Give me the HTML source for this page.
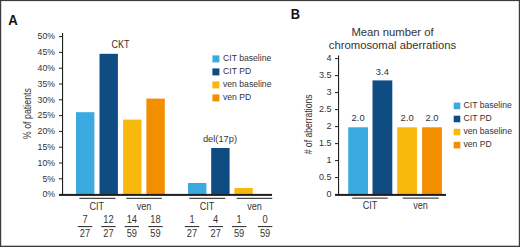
<!DOCTYPE html>
<html><head><meta charset="utf-8"><style>
html,body{margin:0;padding:0;background:#fff;}
body{width:520px;height:247px;overflow:hidden;}
svg{display:block;font-family:"Liberation Sans",sans-serif;}
</style></head><body>
<svg width="520" height="247" viewBox="0 0 520 247">
<rect x="0" y="0" width="520" height="247" fill="#fff"/>
<rect x="0.00" y="0.00" width="520.00" height="1.10" fill="#3c3c3c"/>
<rect x="0.00" y="0.00" width="1.20" height="247.00" fill="#3c3c3c"/>
<rect x="518.80" y="0.00" width="1.20" height="247.00" fill="#3c3c3c"/>
<rect x="0.00" y="245.70" width="520.00" height="1.30" fill="#3c3c3c"/>
<rect x="76.00" y="112.20" width="18.40" height="82.00" fill="#3aaae1"/>
<rect x="99.50" y="53.80" width="18.40" height="140.40" fill="#0f4c81"/>
<rect x="123.10" y="119.60" width="18.40" height="74.60" fill="#f9b90c"/>
<rect x="146.40" y="98.60" width="18.40" height="95.60" fill="#f28e00"/>
<rect x="188.00" y="183.00" width="18.40" height="11.20" fill="#3aaae1"/>
<rect x="211.20" y="148.00" width="18.40" height="46.20" fill="#0f4c81"/>
<rect x="234.40" y="188.00" width="18.40" height="6.20" fill="#f9b90c"/>
<rect x="62.00" y="33.00" width="1.10" height="162.60" fill="#1e1e1e"/>
<rect x="59.00" y="36.10" width="4.00" height="1.00" fill="#1e1e1e"/>
<rect x="59.00" y="51.90" width="4.00" height="1.00" fill="#1e1e1e"/>
<rect x="59.00" y="67.70" width="4.00" height="1.00" fill="#1e1e1e"/>
<rect x="59.00" y="83.50" width="4.00" height="1.00" fill="#1e1e1e"/>
<rect x="59.00" y="99.30" width="4.00" height="1.00" fill="#1e1e1e"/>
<rect x="59.00" y="115.10" width="4.00" height="1.00" fill="#1e1e1e"/>
<rect x="59.00" y="130.90" width="4.00" height="1.00" fill="#1e1e1e"/>
<rect x="59.00" y="146.70" width="4.00" height="1.00" fill="#1e1e1e"/>
<rect x="59.00" y="162.50" width="4.00" height="1.00" fill="#1e1e1e"/>
<rect x="59.00" y="178.30" width="4.00" height="1.00" fill="#1e1e1e"/>
<rect x="59.00" y="194.10" width="4.00" height="1.00" fill="#1e1e1e"/>
<rect x="59.00" y="193.90" width="213.00" height="2.00" fill="#1e1e1e"/>
<rect x="79.40" y="197.80" width="36.10" height="1.05" fill="#2a2a2a"/>
<rect x="126.40" y="197.80" width="35.40" height="1.05" fill="#2a2a2a"/>
<rect x="189.20" y="197.80" width="36.00" height="1.05" fill="#2a2a2a"/>
<rect x="236.70" y="197.80" width="35.60" height="1.05" fill="#2a2a2a"/>
<rect x="77.80" y="226.00" width="14.40" height="1.10" fill="#383838"/>
<rect x="101.30" y="226.00" width="14.40" height="1.10" fill="#383838"/>
<rect x="124.60" y="226.00" width="14.40" height="1.10" fill="#383838"/>
<rect x="148.30" y="226.00" width="14.40" height="1.10" fill="#383838"/>
<rect x="184.80" y="226.00" width="14.40" height="1.10" fill="#383838"/>
<rect x="208.50" y="226.00" width="14.40" height="1.10" fill="#383838"/>
<rect x="231.90" y="226.00" width="14.40" height="1.10" fill="#383838"/>
<rect x="257.90" y="226.00" width="14.40" height="1.10" fill="#383838"/>
<rect x="212.40" y="55.40" width="7.00" height="7.00" fill="#3aaae1"/>
<rect x="212.40" y="68.40" width="7.00" height="7.00" fill="#0f4c81"/>
<rect x="212.40" y="81.40" width="7.00" height="7.00" fill="#f9b90c"/>
<rect x="212.40" y="94.40" width="7.00" height="7.00" fill="#f28e00"/>
<rect x="348.20" y="127.30" width="19.80" height="66.90" fill="#3aaae1"/>
<rect x="372.50" y="80.40" width="19.80" height="113.80" fill="#0f4c81"/>
<rect x="397.20" y="127.30" width="19.80" height="66.90" fill="#f9b90c"/>
<rect x="422.10" y="127.30" width="19.80" height="66.90" fill="#f28e00"/>
<rect x="338.00" y="55.50" width="1.10" height="140.10" fill="#1e1e1e"/>
<rect x="335.00" y="58.10" width="4.00" height="1.00" fill="#1e1e1e"/>
<rect x="335.00" y="75.10" width="4.00" height="1.00" fill="#1e1e1e"/>
<rect x="335.00" y="92.10" width="4.00" height="1.00" fill="#1e1e1e"/>
<rect x="335.00" y="109.10" width="4.00" height="1.00" fill="#1e1e1e"/>
<rect x="335.00" y="126.10" width="4.00" height="1.00" fill="#1e1e1e"/>
<rect x="335.00" y="143.10" width="4.00" height="1.00" fill="#1e1e1e"/>
<rect x="335.00" y="160.10" width="4.00" height="1.00" fill="#1e1e1e"/>
<rect x="335.00" y="177.10" width="4.00" height="1.00" fill="#1e1e1e"/>
<rect x="335.00" y="194.10" width="4.00" height="1.00" fill="#1e1e1e"/>
<rect x="335.00" y="193.90" width="111.00" height="2.00" fill="#1e1e1e"/>
<rect x="352.30" y="197.60" width="35.40" height="1.05" fill="#2a2a2a"/>
<rect x="402.70" y="197.60" width="36.10" height="1.05" fill="#2a2a2a"/>
<rect x="453.70" y="102.60" width="6.60" height="6.60" fill="#3aaae1"/>
<rect x="453.70" y="115.67" width="6.60" height="6.60" fill="#0f4c81"/>
<rect x="453.70" y="128.74" width="6.60" height="6.60" fill="#f9b90c"/>
<rect x="453.70" y="141.81" width="6.60" height="6.60" fill="#f28e00"/>
<text transform="translate(8.20,25) scale(0.94,1)" text-anchor="start" font-size="14" fill="#111" font-weight="bold">A</text>
<text transform="translate(290.80,19) scale(0.93,1)" text-anchor="start" font-size="13.8" fill="#111" font-weight="bold">B</text>
<text transform="translate(55.00,39) scale(0.9,1)" text-anchor="end" font-size="9.7" fill="#333333">50%</text>
<text transform="translate(55.00,55) scale(0.9,1)" text-anchor="end" font-size="9.7" fill="#333333">45%</text>
<text transform="translate(55.00,71) scale(0.9,1)" text-anchor="end" font-size="9.7" fill="#333333">40%</text>
<text transform="translate(55.00,87) scale(0.9,1)" text-anchor="end" font-size="9.7" fill="#333333">35%</text>
<text transform="translate(55.00,103) scale(0.9,1)" text-anchor="end" font-size="9.7" fill="#333333">30%</text>
<text transform="translate(55.00,118) scale(0.9,1)" text-anchor="end" font-size="9.7" fill="#333333">25%</text>
<text transform="translate(55.00,134) scale(0.9,1)" text-anchor="end" font-size="9.7" fill="#333333">20%</text>
<text transform="translate(55.00,150) scale(0.9,1)" text-anchor="end" font-size="9.7" fill="#333333">15%</text>
<text transform="translate(55.00,166) scale(0.9,1)" text-anchor="end" font-size="9.7" fill="#333333">10%</text>
<text transform="translate(55.00,182) scale(0.9,1)" text-anchor="end" font-size="9.7" fill="#333333">5%</text>
<text transform="translate(55.00,197) scale(0.9,1)" text-anchor="end" font-size="9.7" fill="#333333">0%</text>
<text transform="translate(96.80,210) scale(0.89,1)" text-anchor="middle" font-size="10.2" fill="#333333">CIT</text>
<text transform="translate(144.00,210) scale(0.89,1)" text-anchor="middle" font-size="10.2" fill="#333333">ven</text>
<text transform="translate(207.00,210) scale(0.89,1)" text-anchor="middle" font-size="10.2" fill="#333333">CIT</text>
<text transform="translate(254.50,210) scale(0.89,1)" text-anchor="middle" font-size="10.2" fill="#333333">ven</text>
<text transform="translate(85.00,223) scale(0.93,1)" text-anchor="middle" font-size="10" fill="#333333">7</text>
<text transform="translate(85.00,237) scale(0.93,1)" text-anchor="middle" font-size="10" fill="#333333">27</text>
<text transform="translate(108.50,223) scale(0.93,1)" text-anchor="middle" font-size="10" fill="#333333">12</text>
<text transform="translate(108.50,237) scale(0.93,1)" text-anchor="middle" font-size="10" fill="#333333">27</text>
<text transform="translate(131.80,223) scale(0.93,1)" text-anchor="middle" font-size="10" fill="#333333">14</text>
<text transform="translate(131.80,237) scale(0.93,1)" text-anchor="middle" font-size="10" fill="#333333">59</text>
<text transform="translate(155.50,223) scale(0.93,1)" text-anchor="middle" font-size="10" fill="#333333">18</text>
<text transform="translate(155.50,237) scale(0.93,1)" text-anchor="middle" font-size="10" fill="#333333">59</text>
<text transform="translate(192.00,223) scale(0.93,1)" text-anchor="middle" font-size="10" fill="#333333">1</text>
<text transform="translate(192.00,237) scale(0.93,1)" text-anchor="middle" font-size="10" fill="#333333">27</text>
<text transform="translate(215.70,223) scale(0.93,1)" text-anchor="middle" font-size="10" fill="#333333">4</text>
<text transform="translate(215.70,237) scale(0.93,1)" text-anchor="middle" font-size="10" fill="#333333">27</text>
<text transform="translate(239.10,223) scale(0.93,1)" text-anchor="middle" font-size="10" fill="#333333">1</text>
<text transform="translate(239.10,237) scale(0.93,1)" text-anchor="middle" font-size="10" fill="#333333">59</text>
<text transform="translate(265.10,223) scale(0.93,1)" text-anchor="middle" font-size="10" fill="#333333">0</text>
<text transform="translate(265.10,237) scale(0.93,1)" text-anchor="middle" font-size="10" fill="#333333">59</text>
<text transform="translate(120.40,48) scale(0.9,1)" text-anchor="middle" font-size="10.0" fill="#333333">CKT</text>
<text transform="translate(220.00,142) scale(0.97,1)" text-anchor="middle" font-size="9.6" fill="#333333">del(17p)</text>
<text transform="translate(31.00,113.60) rotate(-90) scale(0.85,1)" text-anchor="middle" font-size="10.4" fill="#333333">% of patients</text>
<text transform="translate(223.00,61) scale(0.94,1)" text-anchor="start" font-size="9.2" fill="#333333">CIT baseline</text>
<text transform="translate(223.00,74) scale(0.94,1)" text-anchor="start" font-size="9.2" fill="#333333">CIT PD</text>
<text transform="translate(223.00,87) scale(0.94,1)" text-anchor="start" font-size="9.2" fill="#333333">ven baseline</text>
<text transform="translate(223.00,100) scale(0.94,1)" text-anchor="start" font-size="9.2" fill="#333333">ven PD</text>
<text transform="translate(358.10,121) scale(0.95,1)" text-anchor="middle" font-size="9.9" fill="#333333">2.0</text>
<text transform="translate(382.40,75) scale(0.95,1)" text-anchor="middle" font-size="9.9" fill="#333333">3.4</text>
<text transform="translate(407.10,121) scale(0.95,1)" text-anchor="middle" font-size="9.9" fill="#333333">2.0</text>
<text transform="translate(432.00,121) scale(0.95,1)" text-anchor="middle" font-size="9.9" fill="#333333">2.0</text>
<text transform="translate(331.50,61) scale(0.93,1)" text-anchor="end" font-size="9.7" fill="#333333">4</text>
<text transform="translate(331.50,78) scale(0.93,1)" text-anchor="end" font-size="9.7" fill="#333333">3.5</text>
<text transform="translate(331.50,95) scale(0.93,1)" text-anchor="end" font-size="9.7" fill="#333333">3</text>
<text transform="translate(331.50,112) scale(0.93,1)" text-anchor="end" font-size="9.7" fill="#333333">2.5</text>
<text transform="translate(331.50,129) scale(0.93,1)" text-anchor="end" font-size="9.7" fill="#333333">2</text>
<text transform="translate(331.50,146) scale(0.93,1)" text-anchor="end" font-size="9.7" fill="#333333">1.5</text>
<text transform="translate(331.50,163) scale(0.93,1)" text-anchor="end" font-size="9.7" fill="#333333">1</text>
<text transform="translate(331.50,180) scale(0.93,1)" text-anchor="end" font-size="9.7" fill="#333333">0.5</text>
<text transform="translate(331.50,197) scale(0.93,1)" text-anchor="end" font-size="9.7" fill="#333333">0</text>
<text transform="translate(370.00,209) scale(0.89,1)" text-anchor="middle" font-size="10.2" fill="#333333">CIT</text>
<text transform="translate(420.60,209) scale(0.89,1)" text-anchor="middle" font-size="10.2" fill="#333333">ven</text>
<text transform="translate(392.50,36)" text-anchor="middle" font-size="11.3" fill="#333333">Mean number of</text>
<text transform="translate(392.50,49)" text-anchor="middle" font-size="11.3" fill="#333333">chromosomal aberrations</text>
<text transform="translate(312.30,124.40) rotate(-90) scale(0.83,1)" text-anchor="middle" font-size="10.4" fill="#333333"># of aberrations</text>
<text transform="translate(463.50,108) scale(0.94,1)" text-anchor="start" font-size="9.2" fill="#333333">CIT baseline</text>
<text transform="translate(463.50,121) scale(0.94,1)" text-anchor="start" font-size="9.2" fill="#333333">CIT PD</text>
<text transform="translate(463.50,134) scale(0.94,1)" text-anchor="start" font-size="9.2" fill="#333333">ven baseline</text>
<text transform="translate(463.50,147) scale(0.94,1)" text-anchor="start" font-size="9.2" fill="#333333">ven PD</text>
</svg>
</body></html>
